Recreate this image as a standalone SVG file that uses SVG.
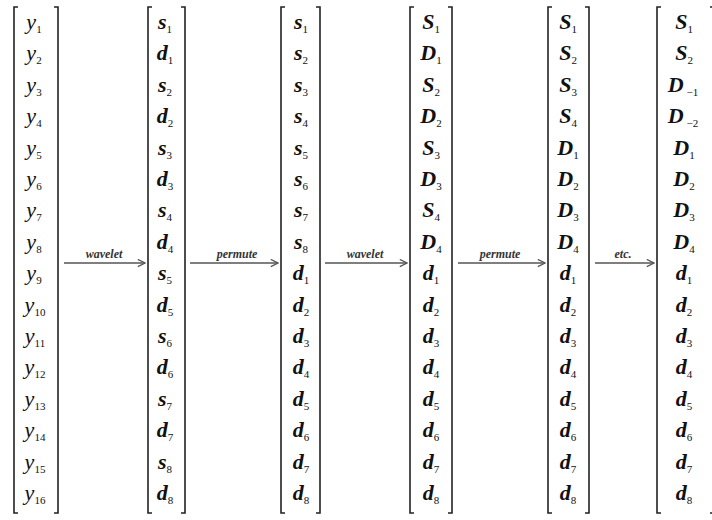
<svg xmlns="http://www.w3.org/2000/svg" width="712" height="520" viewBox="0 0 712 520">
<defs>
<style>
.br{fill:none;stroke:#222;stroke-width:1.6}
.t{font-family:"Liberation Serif",serif;font-style:italic;font-size:22px;fill:#111;text-anchor:middle}
.b{font-weight:bold}
.s{font-style:normal;font-weight:normal;font-size:11px}
.ar{fill:none;stroke:#555;stroke-width:1.3}
.lb{font-family:"Liberation Serif",serif;font-style:italic;font-weight:bold;font-size:12px;fill:#333;text-anchor:middle}
</style>
<marker id="ah" viewBox="0 0 10 10" refX="9" refY="5" markerWidth="9" markerHeight="9" markerUnits="userSpaceOnUse" orient="auto">
<path d="M1,1 L9,5 L1,9" fill="none" stroke="#555" stroke-width="1.4"/>
</marker>
</defs>
<rect width="712" height="520" fill="#fff"/>
<g id="col1">
<path class="br" d="M18,7 H14 V513 H18 M54,7 H58 V513 H54"/>
<text class="t" x="34" y="29">y<tspan class="s" dy="4">1</tspan></text>
<text class="t" x="34" y="60.4">y<tspan class="s" dy="4">2</tspan></text>
<text class="t" x="34" y="91.8">y<tspan class="s" dy="4">3</tspan></text>
<text class="t" x="34" y="123.2">y<tspan class="s" dy="4">4</tspan></text>
<text class="t" x="34" y="154.6">y<tspan class="s" dy="4">5</tspan></text>
<text class="t" x="34" y="186">y<tspan class="s" dy="4">6</tspan></text>
<text class="t" x="34" y="217.4">y<tspan class="s" dy="4">7</tspan></text>
<text class="t" x="34" y="248.8">y<tspan class="s" dy="4">8</tspan></text>
<text class="t" x="34" y="280.2">y<tspan class="s" dy="4">9</tspan></text>
<text class="t" x="35" y="311.6">y<tspan class="s" dy="4">10</tspan></text>
<text class="t" x="35" y="343">y<tspan class="s" dy="4">11</tspan></text>
<text class="t" x="35" y="374.4">y<tspan class="s" dy="4">12</tspan></text>
<text class="t" x="35" y="405.8">y<tspan class="s" dy="4">13</tspan></text>
<text class="t" x="35" y="437.2">y<tspan class="s" dy="4">14</tspan></text>
<text class="t" x="35" y="468.6">y<tspan class="s" dy="4">15</tspan></text>
<text class="t" x="35" y="500">y<tspan class="s" dy="4">16</tspan></text>
</g>
<g id="col2">
<path class="br" d="M152,7 H148 V513 H152 M181,7 H185 V513 H181"/>
<text class="t b" x="165" y="29">s<tspan class="s" dy="4">1</tspan></text>
<text class="t b" x="165" y="60.4">d<tspan class="s" dy="4">1</tspan></text>
<text class="t b" x="165" y="91.8">s<tspan class="s" dy="4">2</tspan></text>
<text class="t b" x="165" y="123.2">d<tspan class="s" dy="4">2</tspan></text>
<text class="t b" x="165" y="154.6">s<tspan class="s" dy="4">3</tspan></text>
<text class="t b" x="165" y="186">d<tspan class="s" dy="4">3</tspan></text>
<text class="t b" x="165" y="217.4">s<tspan class="s" dy="4">4</tspan></text>
<text class="t b" x="165" y="248.8">d<tspan class="s" dy="4">4</tspan></text>
<text class="t b" x="165" y="280.2">s<tspan class="s" dy="4">5</tspan></text>
<text class="t b" x="165" y="311.6">d<tspan class="s" dy="4">5</tspan></text>
<text class="t b" x="165" y="343">s<tspan class="s" dy="4">6</tspan></text>
<text class="t b" x="165" y="374.4">d<tspan class="s" dy="4">6</tspan></text>
<text class="t b" x="165" y="405.8">s<tspan class="s" dy="4">7</tspan></text>
<text class="t b" x="165" y="437.2">d<tspan class="s" dy="4">7</tspan></text>
<text class="t b" x="165" y="468.6">s<tspan class="s" dy="4">8</tspan></text>
<text class="t b" x="165" y="500">d<tspan class="s" dy="4">8</tspan></text>
</g>
<g id="col3">
<path class="br" d="M285,7 H281 V513 H285 M316,7 H320 V513 H316"/>
<text class="t b" x="301" y="29">s<tspan class="s" dy="4">1</tspan></text>
<text class="t b" x="301" y="60.4">s<tspan class="s" dy="4">2</tspan></text>
<text class="t b" x="301" y="91.8">s<tspan class="s" dy="4">3</tspan></text>
<text class="t b" x="301" y="123.2">s<tspan class="s" dy="4">4</tspan></text>
<text class="t b" x="301" y="154.6">s<tspan class="s" dy="4">5</tspan></text>
<text class="t b" x="301" y="186">s<tspan class="s" dy="4">6</tspan></text>
<text class="t b" x="301" y="217.4">s<tspan class="s" dy="4">7</tspan></text>
<text class="t b" x="301" y="248.8">s<tspan class="s" dy="4">8</tspan></text>
<text class="t b" x="301" y="280.2">d<tspan class="s" dy="4">1</tspan></text>
<text class="t b" x="301" y="311.6">d<tspan class="s" dy="4">2</tspan></text>
<text class="t b" x="301" y="343">d<tspan class="s" dy="4">3</tspan></text>
<text class="t b" x="301" y="374.4">d<tspan class="s" dy="4">4</tspan></text>
<text class="t b" x="301" y="405.8">d<tspan class="s" dy="4">5</tspan></text>
<text class="t b" x="301" y="437.2">d<tspan class="s" dy="4">6</tspan></text>
<text class="t b" x="301" y="468.6">d<tspan class="s" dy="4">7</tspan></text>
<text class="t b" x="301" y="500">d<tspan class="s" dy="4">8</tspan></text>
</g>
<g id="col4">
<path class="br" d="M414,7 H410 V513 H414 M448,7 H452 V513 H448"/>
<text class="t b" x="431" y="29">S<tspan class="s" dy="4">1</tspan></text>
<text class="t b" x="431" y="60.4">D<tspan class="s" dy="4">1</tspan></text>
<text class="t b" x="431" y="91.8">S<tspan class="s" dy="4">2</tspan></text>
<text class="t b" x="431" y="123.2">D<tspan class="s" dy="4">2</tspan></text>
<text class="t b" x="431" y="154.6">S<tspan class="s" dy="4">3</tspan></text>
<text class="t b" x="431" y="186">D<tspan class="s" dy="4">3</tspan></text>
<text class="t b" x="431" y="217.4">S<tspan class="s" dy="4">4</tspan></text>
<text class="t b" x="431" y="248.8">D<tspan class="s" dy="4">4</tspan></text>
<text class="t b" x="431" y="280.2">d<tspan class="s" dy="4">1</tspan></text>
<text class="t b" x="431" y="311.6">d<tspan class="s" dy="4">2</tspan></text>
<text class="t b" x="431" y="343">d<tspan class="s" dy="4">3</tspan></text>
<text class="t b" x="431" y="374.4">d<tspan class="s" dy="4">4</tspan></text>
<text class="t b" x="431" y="405.8">d<tspan class="s" dy="4">5</tspan></text>
<text class="t b" x="431" y="437.2">d<tspan class="s" dy="4">6</tspan></text>
<text class="t b" x="431" y="468.6">d<tspan class="s" dy="4">7</tspan></text>
<text class="t b" x="431" y="500">d<tspan class="s" dy="4">8</tspan></text>
</g>
<g id="col5">
<path class="br" d="M552,7 H548 V513 H552 M585,7 H589 V513 H585"/>
<text class="t b" x="568" y="29">S<tspan class="s" dy="4">1</tspan></text>
<text class="t b" x="568" y="60.4">S<tspan class="s" dy="4">2</tspan></text>
<text class="t b" x="568" y="91.8">S<tspan class="s" dy="4">3</tspan></text>
<text class="t b" x="568" y="123.2">S<tspan class="s" dy="4">4</tspan></text>
<text class="t b" x="568" y="154.6">D<tspan class="s" dy="4">1</tspan></text>
<text class="t b" x="568" y="186">D<tspan class="s" dy="4">2</tspan></text>
<text class="t b" x="568" y="217.4">D<tspan class="s" dy="4">3</tspan></text>
<text class="t b" x="568" y="248.8">D<tspan class="s" dy="4">4</tspan></text>
<text class="t b" x="568" y="280.2">d<tspan class="s" dy="4">1</tspan></text>
<text class="t b" x="568" y="311.6">d<tspan class="s" dy="4">2</tspan></text>
<text class="t b" x="568" y="343">d<tspan class="s" dy="4">3</tspan></text>
<text class="t b" x="568" y="374.4">d<tspan class="s" dy="4">4</tspan></text>
<text class="t b" x="568" y="405.8">d<tspan class="s" dy="4">5</tspan></text>
<text class="t b" x="568" y="437.2">d<tspan class="s" dy="4">6</tspan></text>
<text class="t b" x="568" y="468.6">d<tspan class="s" dy="4">7</tspan></text>
<text class="t b" x="568" y="500">d<tspan class="s" dy="4">8</tspan></text>
</g>
<g id="col6">
<path class="br" d="M661,7 H657 V513 H661 M710,7 H713 V513 H710"/>
<text class="t b" x="684" y="29">S<tspan class="s" dy="4">1</tspan></text>
<text class="t b" x="684" y="60.4">S<tspan class="s" dy="4">2</tspan></text>
<text class="t b" x="683" y="91.8">D<tspan class="s" dy="4"> −1</tspan></text>
<text class="t b" x="683" y="123.2">D<tspan class="s" dy="4"> −2</tspan></text>
<text class="t b" x="684" y="154.6">D<tspan class="s" dy="4">1</tspan></text>
<text class="t b" x="684" y="186">D<tspan class="s" dy="4">2</tspan></text>
<text class="t b" x="684" y="217.4">D<tspan class="s" dy="4">3</tspan></text>
<text class="t b" x="684" y="248.8">D<tspan class="s" dy="4">4</tspan></text>
<text class="t b" x="684" y="280.2">d<tspan class="s" dy="4">1</tspan></text>
<text class="t b" x="684" y="311.6">d<tspan class="s" dy="4">2</tspan></text>
<text class="t b" x="684" y="343">d<tspan class="s" dy="4">3</tspan></text>
<text class="t b" x="684" y="374.4">d<tspan class="s" dy="4">4</tspan></text>
<text class="t b" x="684" y="405.8">d<tspan class="s" dy="4">5</tspan></text>
<text class="t b" x="684" y="437.2">d<tspan class="s" dy="4">6</tspan></text>
<text class="t b" x="684" y="468.6">d<tspan class="s" dy="4">7</tspan></text>
<text class="t b" x="684" y="500">d<tspan class="s" dy="4">8</tspan></text>
</g>
<g id="connectors">
<line class="ar" x1="64" y1="263" x2="145" y2="263" marker-end="url(#ah)"/>
<text class="lb" x="104" y="258">wavelet</text>
<line class="ar" x1="190" y1="263" x2="278" y2="263" marker-end="url(#ah)"/>
<text class="lb" x="237" y="258">permute</text>
<line class="ar" x1="325" y1="263" x2="407" y2="263" marker-end="url(#ah)"/>
<text class="lb" x="365" y="258">wavelet</text>
<line class="ar" x1="458" y1="263" x2="545" y2="263" marker-end="url(#ah)"/>
<text class="lb" x="500" y="258">permute</text>
<line class="ar" x1="595" y1="263" x2="654" y2="263" marker-end="url(#ah)"/>
<text class="lb" x="623" y="258">etc.</text>
</g>
</svg>
